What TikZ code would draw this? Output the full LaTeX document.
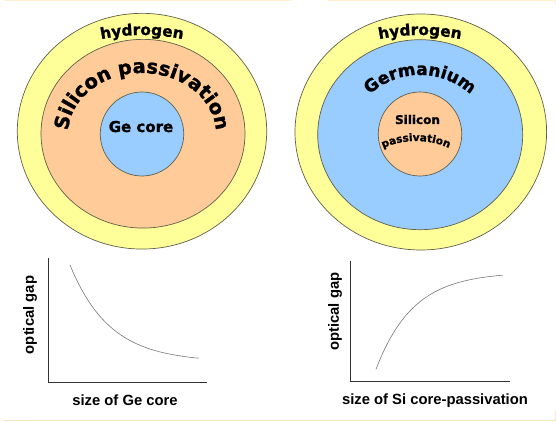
\documentclass[tikz,border=0pt]{standalone}
\usepackage{fontspec}
\setmainfont{Liberation Sans}
\newfontfamily\artfont{DejaVu Sans Bold}[FakeBold=1.3]
\usetikzlibrary{shapes.geometric,decorations.text}
\definecolor{hyd}{RGB}{255,255,153}
\definecolor{sip}{RGB}{255,204,153}
\definecolor{ger}{RGB}{153,204,255}
\definecolor{rim}{RGB}{95,95,75}
\definecolor{edgebeige}{RGB}{255,242,204}
\definecolor{edgebot}{RGB}{238,232,190}
\definecolor{axisgray}{RGB}{50,50,50}
\definecolor{curvegray}{RGB}{120,120,120}
\newcommand\hydfont{\artfont\fontsize{15.3pt}{16pt}\selectfont}
\newcommand\sipfont{\artfont\fontsize{19.5pt}{20pt}\selectfont}
\newcommand\gerfont{\artfont\fontsize{17pt}{17pt}\selectfont}
\newcommand\gefont{\artfont\fontsize{15pt}{16pt}\selectfont}
\newcommand\smallsil{\artfont\fontsize{12pt}{13pt}\selectfont}
\newcommand\smallpas{\artfont\fontsize{10.5pt}{11pt}\selectfont}
\newcommand\plotfont{\bfseries\fontsize{14.8pt}{17pt}\selectfont}
\tikzset{
  shell/.style={ellipse, draw=rim, line width=0.7pt, inner sep=0pt},
  axisline/.style={draw=axisgray, line width=1.3pt},
  curveline/.style={draw=curvegray, line width=0.6pt},
  plotlabel/.style={font=\plotfont, text=black, inner sep=0pt},
  rimline/.style={line width=1.2pt}
}
\begin{document}
\begin{tikzpicture}[x=1pt,y=1pt]
\useasboundingbox (0,0) rectangle (556,422);
% faint frame lines
\draw[rimline, edgebeige] (4,421.4) -- (292,421.4);
\draw[rimline, edgebeige] (328,421.4) -- (556,421.4);
\draw[rimline, edgebeige] (555.4,422) -- (555.4,417);
\draw[rimline, edgebot] (555.4,11) -- (555.4,1.5);
\draw[rimline, edgebot] (4,1.5) -- (556,1.5);

% ---------- left sphere ----------
\node[shell, fill=hyd, minimum width=249.4pt, minimum height=235.7pt] (lh) at (142,290.8) {};
\node[shell, fill=sip, minimum width=204pt, minimum height=188.7pt] (ls) at (143,288.3) {};
\node[shell, fill=ger, minimum width=83.5pt, minimum height=84pt] (lg) at (142,288) {};
\path[shift={(142,187)}, decorate, decoration={text along path, text align=center, text={|\hydfont|hydrogen}}]
  (112:200) arc[start angle=112, end angle=68, radius=200];
\path[shift={(142,288)}, decorate, decoration={text along path, text align=center, text={|\sipfont|Silicon passivation}}]
  (190:74 and 61) arc[start angle=190, end angle=-10, x radius=74, y radius=61];
\node[font=\gefont, anchor=base, inner sep=0pt] (gec) at (141,290) {Ge core};

% ---------- right sphere ----------
\node[shell, fill=hyd, minimum width=251.6pt, minimum height=236pt] (rh) at (420.8,290) {};
\node[shell, fill=ger, minimum width=205pt, minimum height=190pt] (rg) at (420.2,287.3) {};
\node[shell, fill=sip, minimum width=83.5pt, minimum height=84pt] (rs) at (420,288) {};
\path[shift={(420,187)}, decorate, decoration={text along path, text align=center, text={|\hydfont|hydrogen}}]
  (112:200) arc[start angle=112, end angle=68, radius=200];
\path[shift={(420,272)}, decorate, decoration={text along path, text align=center, text={|\gerfont|Germanium}}]
  (140:75) arc[start angle=140, end angle=40, radius=75];
\node[font=\smallsil, anchor=base, inner sep=0pt] (rsil) at (417.5,298) {Silicon};
\path[shift={(416,201)}, decorate, decoration={text along path, text align=center, text={|\smallpas|passivation}}]
  (120:80) arc[start angle=120, end angle=60, radius=80];

% ---------- left plot ----------
\coordinate (lyt) at (48.3,163.7);
\coordinate (lo) at (48.3,39.3);
\coordinate (lxe) at (207.3,39.3);
\draw[axisline] (lyt) -- (lo) -- (lxe);
\draw[curveline] plot[domain=70:199, samples=80, smooth] (\x, {60+97*exp(-(\x-70)/39.8)});
\node[plotlabel, rotate=90] (lyl) at (30,107) {optical gap};
\node[plotlabel] (lxl) at (125,21.5) {size of Ge core};

% ---------- right plot ----------
\coordinate (ryt) at (350.7,161.3);
\coordinate (ro) at (350.7,40.3);
\coordinate (rxe) at (510,40.3);
\draw[axisline] (ryt) -- (ro) -- (rxe);
\draw[curveline] plot[domain=376:502.7, samples=80, smooth] (\x, {150-97.3*exp(-(\x-376)/37.1)});
\node[plotlabel, rotate=90] (ryl) at (335,110.3) {optical gap};
\node[plotlabel] (rxl) at (435,21) {size of Si core-passivation};
\end{tikzpicture}
\end{document}
